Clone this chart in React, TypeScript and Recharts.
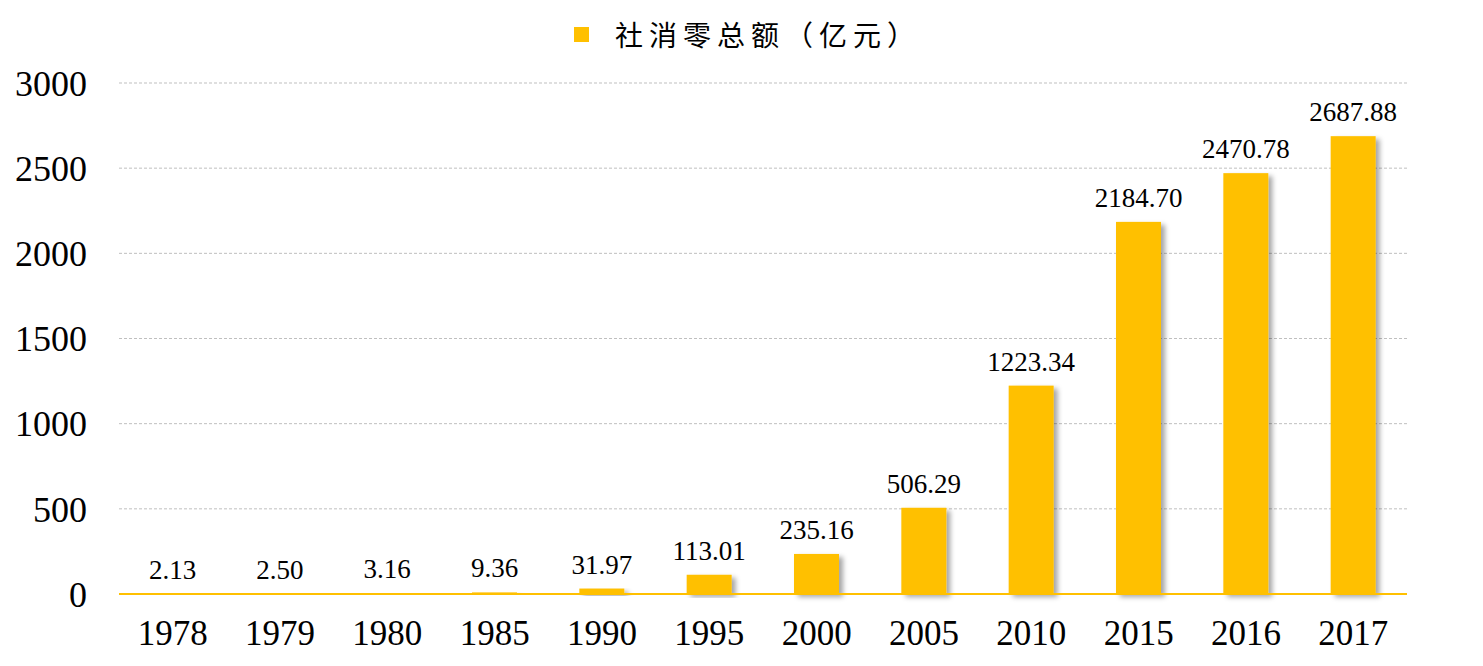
import React from "react";
import {
  BarChart,
  Bar,
  XAxis,
  YAxis,
  CartesianGrid,
  Legend,
  LabelList,
} from "recharts";

const years = ["1978", "1979", "1980", "1985", "1990", "1995", "2000", "2005", "2010", "2015", "2016", "2017"];
const retailTotals = [2.13, 2.5, 3.16, 9.36, 31.97, 113.01, 235.16, 506.29, 1223.34, 2184.7, 2470.78, 2687.88];
const yTicks = [0, 500, 1000, 1500, 2000, 2500, 3000];
const seriesName = "社消零总额（亿元）";

const data = years.map((year, i) => ({ year, value: retailTotals[i] }));

const GOLD = "#FFC000";

// bar with a soft drop shadow like the office chart
const ShadowBar = (props: any) => {
  const { x, y, width, height } = props;
  if (height == null || width == null) return null;
  return (
    <g>
      <defs>
        <filter id="barShadow" x="-30%" y="-10%" width="170%" height="130%">
          <feDropShadow dx="4" dy="3" stdDeviation="2.5" floodColor="#000" floodOpacity="0.35" />
        </filter>
      </defs>
      <rect x={x} y={y} width={width} height={height} fill={GOLD} filter="url(#barShadow)" />
    </g>
  );
};

const LegendContent = () => (
  <div
    style={{
      display: "flex",
      alignItems: "center",
      paddingLeft: 574,
      height: 40,
    }}
  >
    <span style={{ width: 15, height: 15, background: GOLD, display: "inline-block" }} />
    <span
      style={{
        marginLeft: 26,
        fontFamily: "'Noto Sans CJK SC', sans-serif",
        fontSize: 28,
        letterSpacing: 6,
        color: "#000",
      }}
    >
      {seriesName}
    </span>
  </div>
);

export default function App() {
  return (
    <div style={{ position: "absolute", left: 0, top: 0, width: 1483, height: 666, background: "#fff" }}>
      <BarChart
        width={1483}
        height={666}
        data={data}
        margin={{ top: 43, right: 76, bottom: 0, left: 0 }}
      >
        <CartesianGrid vertical={false} stroke="#BFBFBF" strokeDasharray="3 2" />
        <Legend
          verticalAlign="top"
          content={<LegendContent />}
          wrapperStyle={{ top: 14, left: 0, width: 1483, height: 40 }}
        />
        <XAxis
          dataKey="year"
          height={72}
          axisLine={{ stroke: GOLD, strokeWidth: 2 }}
          tickLine={false}
          tickSize={0}
          tickMargin={26}
          interval={0}
          tick={{ fontFamily: "'Liberation Serif', serif", fontSize: 35, fill: "#000" }}
        />
        <YAxis
          width={119}
          domain={[0, 3000]}
          ticks={yTicks}
          axisLine={false}
          tickLine={false}
          tickSize={0}
          tickMargin={32}
          tick={{ fontFamily: "'Liberation Serif', serif", fontSize: 36, fill: "#000" }}
        />
        <Bar dataKey="value" barSize={45} shape={<ShadowBar />} isAnimationActive={false}>
          <LabelList
            dataKey="value"
            position="top"
            offset={15}
            formatter={(v: any) => Number(v).toFixed(2)}
            style={{ fontFamily: "'Liberation Serif', serif", fontSize: 27, fill: "#000" }}
          />
        </Bar>
      </BarChart>
    </div>
  );
}
